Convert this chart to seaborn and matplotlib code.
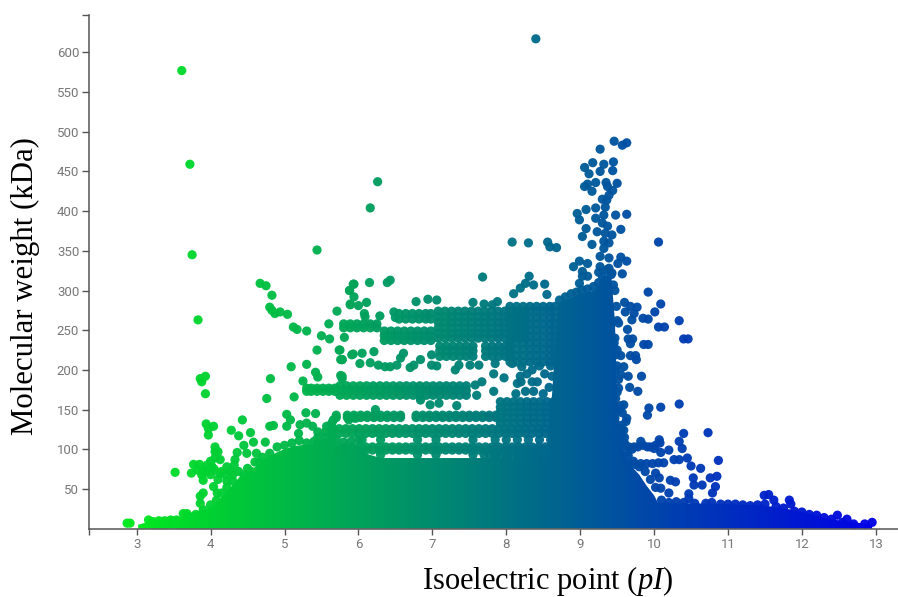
import matplotlib.pyplot as plt
import numpy as np
import pandas as pd
import seaborn as sns
from matplotlib.colors import LinearSegmentedColormap, Normalize

# solid part of the cloud: upper edge
mass_pi = [3.02, 3.14, 3.23, 3.57, 3.81, 3.95, 4.04, 4.15, 4.27, 4.4, 4.58, 4.76, 4.94, 5.12, 5.3, 5.6, 5.9, 6.05, 6.3,
           7.0, 8.0, 8.4, 8.55, 8.62, 8.7, 8.9, 9.0, 9.2, 9.3, 9.42, 9.47, 9.5, 9.55, 9.6, 9.7, 9.8, 9.9, 10.0, 10.05,
           10.5, 11.0, 11.5, 11.8, 12.0, 12.2, 12.4, 12.6, 12.8, 12.95]
mass_top = [5, 8, 12, 14, 21, 25, 30, 40, 52, 66, 76, 90, 98, 104, 106, 106, 104, 96, 89,
            89, 89, 90, 92, 170, 284, 292, 296, 300, 318, 320, 262, 170, 112, 96, 78, 68, 54, 42, 33,
            32, 31, 29, 25, 21, 16, 12, 9, 7, 5]

# isolated proteins
dots_pi = [8.40, 3.61, 3.72, 3.75, 3.83, 6.26, 6.16, 5.44, 7.68,
           9.46, 9.57, 9.63, 9.27, 9.17, 9.06, 9.12, 9.27, 9.32, 9.45, 9.44, 9.21, 9.10, 9.06, 9.16, 9.35, 9.37, 9.50,
           9.44, 9.39, 9.36, 9.30, 9.34, 9.21, 9.08, 8.96, 8.99, 9.21, 9.32, 9.48, 9.63, 9.30, 9.08, 9.37, 9.55, 9.23,
           9.34, 9.43, 9.03, 9.32, 9.39, 9.16, 10.06, 9.32, 9.27, 9.39, 9.55, 9.63, 9.51, 8.99, 8.91, 9.10, 9.27, 9.39,
           9.03, 9.25, 9.43, 9.57, 9.10, 9.03, 9.36, 9.45, 8.99, 9.92,
           8.08, 8.30, 8.56, 8.59, 8.68, 8.31, 8.52, 8.26, 8.37, 8.19, 8.10, 8.55,
           3.86, 3.93, 3.88, 3.93, 3.94, 4.04, 3.97, 3.97, 4.43, 4.28, 4.38, 4.54, 4.45, 4.58, 4.49, 4.36, 4.33,
           4.74, 4.62, 4.60, 3.52, 3.77, 3.85, 3.74, 3.90, 3.90, 4.06, 4.06, 4.13, 4.02, 4.22, 3.86, 3.90, 3.86,
           4.04, 4.09, 2.87, 2.91, 3.16, 3.63, 3.68,
           4.67, 4.75, 4.83, 4.80, 4.83, 4.87, 4.94, 5.04, 5.12, 5.17, 5.30, 5.50, 5.61, 5.60, 5.71, 5.89, 5.88, 5.94, 5.94,
           5.81, 5.44, 5.74, 5.93, 5.76, 5.78, 5.30, 5.09, 5.42, 5.45, 5.25, 5.76, 5.78, 4.81, 5.13, 4.76,
           5.03, 5.08, 5.29, 5.42, 4.80, 4.85, 5.03, 5.21, 5.30, 5.38, 5.19, 5.57, 5.66, 5.64, 5.87, 5.96,
           5.93, 5.88, 6.15, 6.39, 6.43, 5.89, 6.00, 6.11, 6.08, 6.09, 6.29, 6.48, 6.50, 6.78, 6.94, 7.06, 7.55, 7.70,
           7.88, 7.81, 5.91, 6.05, 6.21, 5.75, 5.78, 6.02, 6.16, 6.27, 6.36, 6.43, 6.52, 6.61, 6.57, 6.70, 6.75, 6.84,
           6.99, 6.99, 7.06, 7.31, 7.36, 7.51, 7.63, 7.85, 8.08, 8.21, 7.83, 7.97, 5.78, 7.58, 7.67, 7.60, 7.83, 8.15,
           8.19, 8.42, 8.35, 8.26, 8.37, 6.97, 7.09, 7.33, 6.23, 6.84,
           10.09, 10.01, 10.34, 10.06, 10.14, 9.85, 9.92, 10.40, 10.46, 9.86, 9.92, 9.65, 9.71, 9.68, 9.60, 9.68, 9.77,
           9.61, 9.73, 9.70, 9.52, 9.64, 9.46, 9.48, 9.55, 9.68, 9.75, 9.76, 9.59, 9.55, 9.65, 9.83, 9.52, 9.67, 9.78,
           9.59, 10.34, 10.09, 9.93, 9.91, 9.63, 10.40, 10.73, 10.07, 10.34, 10.38, 10.20, 9.82, 9.91, 10.00, 9.73, 9.66,
           10.09, 10.87, 10.45, 10.34, 10.27, 10.50, 10.63, 10.02, 10.07, 10.22, 10.29, 10.53, 10.54, 10.65, 10.76, 10.85,
           10.83, 10.79, 10.09, 10.20, 10.47, 11.55, 11.49, 11.62, 11.83, 11.85, 12.48, 12.61, 12.95,
           9.43, 9.50, 9.59, 9.55, 9.45, 9.50, 9.60, 9.55, 9.41, 9.48, 9.39, 9.46, 9.50]
dots_mw = [617, 577, 459, 345, 263, 437, 404, 351, 317,
           488, 483, 486, 478, 461, 455, 447, 450, 459, 462, 451, 436, 434, 431, 425, 436, 431, 435,
           426, 420, 414, 415, 405, 404, 402, 397, 389, 391, 395, 395, 396, 385, 378, 381, 377, 374,
           372, 370, 368, 362, 360, 358, 361, 353, 343, 341, 342, 337, 334, 337, 330, 334, 330, 328,
           324, 323, 322, 321, 318, 318, 311, 307, 309, 298,
           361, 360, 361, 355, 354, 318, 308, 309, 307, 303, 296, 295,
           189, 192, 185, 170, 132, 129, 126, 118, 137, 124, 117, 121, 105, 109, 95, 96, 87,
           109, 95, 84, 71, 81, 81, 70, 72, 61, 97, 89, 87, 78, 78, 41, 45, 32,
           53, 45, 7, 7, 11, 19, 19,
           309, 306, 294, 279, 275, 271, 273, 270, 254, 251, 249, 243, 239, 258, 274, 282, 300, 292, 308,
           241, 225, 225, 220, 213, 213, 207, 204, 197, 191, 186, 193, 189, 189, 166, 164,
           144, 137, 146, 145, 129, 130, 129, 131, 133, 129, 120, 129, 137, 133, 137, 139,
           308, 300, 310, 310, 313, 283, 281, 285, 271, 267, 268, 273, 266, 286, 289, 288, 285, 283,
           286, 282, 219, 221, 223, 225, 213, 208, 209, 206, 204, 204, 206, 221, 215, 203, 206, 213,
           219, 206, 205, 200, 206, 206, 206, 208, 208, 204, 195, 190, 192, 181, 185, 168, 173, 183,
           192, 185, 185, 173, 173, 156, 158, 155, 150, 162,
           283, 273, 262, 254, 254, 265, 264, 239, 239, 232, 232, 239, 239, 233, 285, 280, 279,
           273, 271, 263, 259, 251, 234, 219, 218, 218, 218, 213, 204, 194, 192, 192, 177, 178, 173,
           156, 157, 153, 152, 143, 139, 120, 121, 112, 110, 101, 99, 110, 103, 101, 103, 103,
           96, 86, 89, 87, 87, 79, 76, 70, 64, 61, 59, 64, 55, 55, 64, 66,
           53, 45, 51, 45, 44, 43, 42, 36, 36, 31, 17, 12, 8,
           133, 128, 124, 115, 120, 108, 108, 155, 160, 164, 250, 228, 205]

# proteins along the rim of the solid part, they give it its bumpy outline
rim_pi = [3.22, 3.30, 3.38, 3.46, 3.54, 3.72, 3.80, 3.90, 4.00, 4.08, 4.15, 4.22, 4.22, 4.30, 4.30, 4.38, 4.45, 4.50, 4.55,
          4.10, 4.15, 4.00, 3.95, 3.82, 3.88, 3.95, 4.00, 4.05, 4.12, 4.20, 4.27, 4.32, 4.06, 4.10,
          4.66, 4.70, 4.80, 4.90, 5.00, 5.10, 5.20, 5.30, 5.40, 5.50, 5.60, 5.70, 5.80, 5.90, 6.00,
          9.60, 9.65, 9.72, 9.80, 9.88, 9.95, 10.02, 10.10, 10.20, 10.30, 10.40, 10.47, 10.55, 10.70, 10.78, 10.90, 11.00,
          11.10, 11.20, 11.30, 11.40, 11.50, 11.65, 11.75, 11.90, 12.00, 12.10, 12.20, 12.30, 12.40, 12.55, 12.70, 12.85,
          9.66, 9.74, 9.82, 9.90, 9.98, 10.06, 10.13, 9.62, 9.70, 9.78, 9.85, 9.95, 10.02, 10.08, 9.56, 9.60, 9.62,
          8.72, 8.80, 8.88, 8.95, 9.02, 9.10, 9.18, 9.25, 9.30, 9.36, 9.42, 9.47, 9.49, 9.50, 9.47, 9.50, 9.48, 9.52, 9.50,
          9.53, 9.57, 9.55, 9.47, 8.50, 8.58, 8.62, 8.60, 8.52, 8.45, 8.35, 8.28, 8.20, 8.13]
rim_mw = [9, 10, 10, 11, 11, 15, 18, 24, 30, 36, 45, 52, 60, 60, 68, 72, 68, 76, 72,
          62, 72, 68, 80, 74, 68, 72, 85, 75, 70, 68, 72, 80, 103, 97,
          84, 90, 95, 103, 105, 108, 111, 108, 110, 106, 108, 112, 109, 110, 112,
          105, 92, 85, 78, 72, 62, 52, 36, 33, 34, 33, 38, 32, 32, 33, 31, 31,
          31, 30, 29, 30, 31, 28, 26, 22, 21, 18, 17, 14, 12, 8, 6, 6,
          82, 81, 82, 82, 82, 83, 83, 95, 100, 103, 105, 103, 105, 108, 125, 115, 135,
          288, 292, 296, 298, 301, 302, 305, 310, 318, 326, 320, 300, 280, 262, 240, 225, 200, 188, 172,
          150, 146, 130, 140, 170, 178, 192, 205, 195, 205, 200, 195, 185, 170]

# horizontal bands of proteins, each block is pI positions times MW levels
low_band_pi = [5.65, 5.74, 5.83, 5.92, 6.01, 6.10, 6.19, 6.28, 6.37, 6.46, 6.55, 6.64, 6.73, 6.82, 6.91, 7.00, 7.09, 7.18,
               7.27, 7.36, 7.45, 7.54, 7.63, 7.72, 7.81, 7.90, 7.99, 8.08, 8.17, 8.26, 8.35, 8.44, 8.53, 8.62]
low_band_mw = [99, 103, 120, 126]
bridge_pi = [6.05, 6.3, 6.8, 7.05, 7.55, 7.85, 8.0, 8.15, 8.3, 8.45, 8.6]
bridge_mw = [93, 112]
gap_fill_pi = [7.70, 7.78, 7.86, 7.94, 8.02, 8.10, 8.18, 8.26, 8.34, 8.42, 8.50, 8.58, 8.66]
gap_fill_mw = [93]
b141_pi = [5.7, 5.85, 5.94, 6.03, 6.12, 6.21, 6.30, 6.39, 6.48, 6.57, 6.78, 6.87, 6.96, 7.05, 7.14, 7.23, 7.32, 7.41,
           7.50, 7.59, 7.68, 7.77, 7.86]
b141_mw = [140, 143]
block_r_pi = [7.92, 8.01, 8.10, 8.19, 8.28, 8.37, 8.46, 8.55, 8.64]
block_r_mw = [133, 140, 147, 153, 160]
b175_pi = [5.75, 5.84, 5.93, 6.02, 6.11, 6.20, 6.29, 6.38, 6.47, 6.56, 6.65, 6.74, 6.83, 6.92, 7.01, 7.10, 7.19, 7.28,
           7.37, 7.46]
b175_mw = [168, 174, 180]
b175_left_pi = [5.30, 5.36, 5.44, 5.52, 5.60, 5.68]
b175_left_mw = [173, 177]
top_r_pi = [7.08, 7.17, 7.26, 7.35, 7.44, 7.53, 7.62, 7.71, 7.80, 7.89, 7.98, 8.07, 8.16, 8.25]
top_r_mw = [240, 246, 253, 260, 267, 274]
top_m_pi = [6.55, 6.64, 6.73, 6.82, 6.91, 6.98]
top_m_mw = [264, 271]
top_l_pi = [6.35, 6.44, 6.53, 6.62, 6.71, 6.80, 6.89, 6.98]
top_l_mw = [237, 243, 249]
top_ll_pi = [5.80, 5.89, 5.98, 6.07, 6.16, 6.25]
top_ll_mw = [253, 258]
mid_pi = [7.10, 7.19, 7.28, 7.37, 7.46, 7.55, 7.72, 7.81, 7.90, 7.99, 8.05]
mid_mw = [217, 224, 230]
shoulder_pi = [8.05, 8.14, 8.23, 8.32, 8.41, 8.50, 8.59, 8.66]
shoulder_mw = [210, 218, 226, 234, 242, 250, 258, 266, 274, 280]
left_band_pi = [5.45, 5.55, 5.65]
left_band_mw = [108, 115, 122]

blocks = [(low_band_pi, low_band_mw), (bridge_pi, bridge_mw), (gap_fill_pi, gap_fill_mw), (b141_pi, b141_mw),
          (block_r_pi, block_r_mw), (b175_pi, b175_mw), (b175_left_pi, b175_left_mw), (top_r_pi, top_r_mw),
          (top_m_pi, top_m_mw), (top_l_pi, top_l_mw), (top_ll_pi, top_ll_mw), (mid_pi, mid_mw),
          (shoulder_pi, shoulder_mw), (left_band_pi, left_band_mw)]

x_ticks = [3, 4, 5, 6, 7, 8, 9, 10, 11, 12, 13]
y_ticks = [50, 100, 150, 200, 250, 300, 350, 400, 450, 500, 550, 600]

rows = [pd.DataFrame({"pi": dots_pi, "mw": dots_mw}), pd.DataFrame({"pi": rim_pi, "mw": rim_mw})]
for pis, levels in blocks:
    for level in levels:
        rows.append(pd.DataFrame({"pi": pis, "mw": level}))
df = pd.concat(rows, ignore_index=True)

sns.set_style("white")
plt.rcParams["font.family"] = "Roboto"
plt.rcParams["mathtext.fontset"] = "custom"
plt.rcParams["mathtext.it"] = "Liberation Serif:italic"
plt.rcParams["mathtext.rm"] = "Liberation Serif"

W, H = 898, 597
left, right, top, bottom = 89, 898, 15, 528.7
fig = plt.figure(figsize=(W / 100, H / 100), dpi=100)
ax = fig.add_axes([left / W, 1 - bottom / H, (right - left) / W, (bottom - top) / H])

cmap = LinearSegmentedColormap.from_list("pi", ["#00e81e", "#0000e6"])
norm = Normalize(3, 13)
xlim = (2.355, 13.3)
ylim = (0, 647)

ramp = np.linspace(xlim[0], xlim[1], 600)[None, :]
im = ax.imshow(ramp, cmap=cmap, norm=norm, extent=[xlim[0], xlim[1], ylim[0], ylim[1]], aspect="auto", zorder=1)
edge = ax.fill_between(mass_pi, 0, mass_top, color="none", linewidth=0)
im.set_clip_path(edge.get_paths()[0], transform=ax.transData)

sns.scatterplot(data=df, x="pi", y="mw", hue="pi", hue_norm=norm, palette=cmap, s=44, linewidth=0, alpha=0.96,
                legend=False, ax=ax, zorder=2, clip_on=False)

ax.set_xlim(xlim)
ax.set_ylim(ylim)
sns.despine(ax=ax)
for s in ["left", "bottom"]:
    ax.spines[s].set_color("#555555")
    ax.spines[s].set_linewidth(1.1)
    ax.spines[s].set_zorder(3)

ax.set_xticks([xlim[0]] + x_ticks, [""] + [str(t) for t in x_ticks])
ax.set_yticks(y_ticks + [ylim[1]], [str(t) for t in y_ticks] + [""])
ax.tick_params(axis="x", bottom=True, length=4, width=1, color="#555555", labelcolor="#777777", labelsize=9.5, pad=3)
ax.tick_params(axis="y", left=True, length=5, width=1, color="#555555", labelcolor="#777777", labelsize=9.5, pad=2)
ax.grid(False)

ax.set_xlabel("")
ax.set_ylabel("")
fig.text(422 / W, 1 - 589 / H, r"Isoelectric point ($\mathit{pI}$)", family="Liberation Serif", fontsize=22,
         ha="left", va="baseline", color="black")
fig.text(25 / W, 1 - 286 / H, "Molecular weight (kDa)", family="Liberation Serif", fontsize=22.2,
         rotation=90, ha="center", va="center", color="black")

fig.savefig("out.png", dpi=100)
